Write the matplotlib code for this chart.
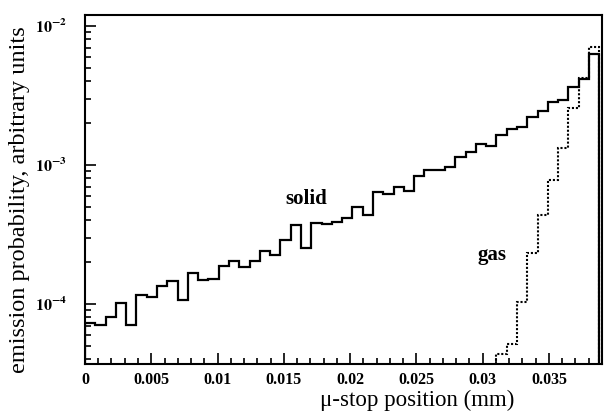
import numpy as np
import matplotlib as mpl
mpl.use('Agg')
import matplotlib.pyplot as plt
from matplotlib.ticker import FixedLocator, LogLocator, FuncFormatter, NullFormatter

plt.rcParams['font.family'] = ['Liberation Serif', 'DejaVu Serif']
plt.rcParams['mathtext.fontset'] = 'stix'

# histogram range of the mu-stop position (mm)
x_lo = 0.0
x_hi = 0.0388
n_bins = 50

# solid target, one value per bin
solid = [7.3e-5, 7.06e-5, 8.0e-5, 1.01e-4, 7.06e-5, 1.16e-4, 1.13e-4, 1.35e-4, 1.47e-4, 1.06e-4,
         1.66e-4, 1.49e-4, 1.52e-4, 1.87e-4, 2.05e-4, 1.85e-4, 2.03e-4, 2.39e-4, 2.26e-4, 2.89e-4,
         3.70e-4, 2.53e-4, 3.85e-4, 3.74e-4, 3.89e-4, 4.13e-4, 4.96e-4, 4.36e-4, 6.43e-4, 6.19e-4,
         6.98e-4, 6.53e-4, 8.34e-4, 9.2e-4, 9.25e-4, 9.7e-4, 1.135e-3, 1.23e-3, 1.42e-3, 1.38e-3,
         1.64e-3, 1.81e-3, 1.89e-3, 2.21e-3, 2.46e-3, 2.83e-3, 2.94e-3, 3.62e-3, 4.18e-3, 6.30e-3]

# gas target, only the last bins are above the plotted range
gas_first_bin = 40
gas = [4.37e-5, 5.13e-5, 1.04e-4, 2.32e-4, 4.37e-4, 7.8e-4, 1.32e-3, 2.56e-3, 4.2e-3, 7.03e-3]

x_ticks = [0, 0.005, 0.01, 0.015, 0.02, 0.025, 0.03, 0.035]
x_tick_labels = ['0', '0.005', '0.01', '0.015', '0.02', '0.025', '0.03', '0.035']
y_ticks = [1e-4, 1e-3, 1e-2]

edges = np.linspace(x_lo, x_hi, n_bins + 1)

fig = plt.figure(figsize=(6.1, 4.19), dpi=100)
ax = fig.add_axes([0.1393, 0.1313, 0.8476, 0.8329])
ax.set_yscale('log')

ax.stairs(solid, edges, baseline=1e-6, color='black', lw=1.6)
ax.stairs(gas, edges[gas_first_bin:], baseline=1e-6, color='black', lw=1.5, ls=(0, (1, 0.9)))

ax.set_xlim(0, 0.039)
ax.set_ylim(3.7e-5, 0.012)

ax.xaxis.set_major_locator(FixedLocator(x_ticks))
ax.set_xticklabels(x_tick_labels, fontsize=10.5, fontweight='bold')
ax.xaxis.set_minor_locator(FixedLocator(np.arange(0, 0.0391, 0.001)))
ax.yaxis.set_major_locator(FixedLocator(y_ticks))
ax.yaxis.set_major_formatter(FuncFormatter(lambda v, p: r'$\mathbf{10^{%d}}$' % round(np.log10(v))))
ax.yaxis.set_minor_locator(LogLocator(base=10, subs=range(2, 10)))
ax.yaxis.set_minor_formatter(NullFormatter())

ax.tick_params(which='both', direction='in', top=False, right=False, width=1.2)
ax.tick_params(which='major', length=8, labelsize=11.5)
ax.tick_params(which='minor', length=4)
ax.tick_params(axis='x', pad=6)
ax.tick_params(axis='y', pad=13)
for s in ax.spines.values():
    s.set_linewidth(1.5)

ax.text(0.01667, 5.69e-4, 'solid', fontsize=15, fontweight='bold', ha='center', va='center')
ax.text(0.0307, 2.25e-4, 'gas', fontsize=15, fontweight='bold', ha='center', va='center')

ax.set_xlabel('\u03bc-stop position (mm)', fontsize=16.5)
ax.xaxis.set_label_coords(0.643, -0.075)
ax.set_ylabel('emission probability, arbitrary units', fontsize=17.5)
ax.yaxis.set_label_coords(-0.107, 0.47)

plt.savefig('out.png', dpi=100)
